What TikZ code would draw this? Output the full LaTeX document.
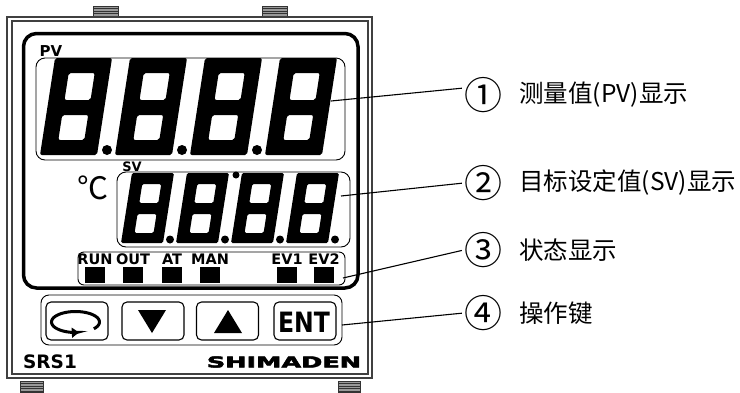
\documentclass[tikz,border=0pt]{standalone}
\usepackage{fontspec}
\setmainfont{DejaVu Sans}
\newfontfamily\cjk{Noto Sans CJK SC}
\newfontfamily\heavy[FakeBold=3]{DejaVu Sans Bold}
\usetikzlibrary{positioning,arrows.meta}

\tikzset{
    frameline/.style={draw=black!75, line width=1.4pt},
    window/.style={draw, line width=0.9pt, rounded corners=9pt, inner sep=0pt},
    key/.style={draw, line width=1.1pt, rounded corners=5pt,
        minimum width=62pt, minimum height=38pt, inner sep=0pt},
    lamp/.style={fill=black, minimum width=20pt, minimum height=16pt, inner sep=0pt},
    tag/.style={font=\bfseries\fontsize{14.5}{15}\selectfont, inner sep=0pt},
    num/.style={font=\cjk\fontsize{38}{40}\selectfont, inner sep=0pt},
    callout/.style={font=\cjk\fontsize{24.5}{26}\selectfont, inner sep=0pt},
    leader/.style={line width=1.1pt, shorten >=2pt},
    % seven segment digits, all segments lit
    pvdigit/.pic={
        \fill[even odd rule, rounded corners=2pt]
            (0,0) rectangle (57,-97)
            (16,-15) rectangle (42,-40)
            (16,-55) rectangle (42,-82);
    },
    svdigit/.pic={
        \fill[even odd rule, rounded corners=1.5pt]
            (0,0) rectangle (42,-70)
            (12,-10) rectangle (31,-29)
            (12,-40) rectangle (31,-59);
    }
}

\begin{document}
\begin{tikzpicture}[x=1pt, y=-1pt]
\useasboundingbox (0,0) rectangle (740,392);

% mounting tabs
\foreach \tx/\ty/\tw in {93/6/25, 262/6/25, 20/381/23, 338/381/22} {
    \fill[black!40] (\tx,\ty) rectangle ++(\tw,11);
    \foreach \k in {0,...,4}
        \draw[black!80, line width=0.8pt] (\tx,\ty+\k*2.6) -- ++(\tw,0);
    \draw[black!80, line width=0.7pt] (\tx,\ty) rectangle ++(\tw,11);
}

% case, double edge
\fill[white] (7,17) rectangle (372,378);
\draw[frameline] (7,17) rectangle (372,378);
\draw[frameline] (12,21) rectangle (368,374);

% bezel of the display
\draw[line width=3.5pt, rounded corners=13pt] (23.5,33.5) rectangle (358,288);

% display windows
\node[window, minimum width=309pt, minimum height=102pt] (pvwin) at (190.5,109) {};
\node[window, minimum width=233pt, minimum height=75pt] (svwin) at (233.5,209.5) {};
\node[window, rounded corners=6pt, minimum width=267pt, minimum height=33pt] (stwin) at (211.5,268.5) {};
\node[window, rounded corners=8pt, minimum width=301pt, minimum height=50pt] (keywin) at (191.5,320) {};

\node[font=\bfseries\fontsize{15}{16}\selectfont, inner sep=0pt] (pvlbl) at (51,51) {PV};
\node[font=\bfseries\fontsize{13}{14}\selectfont, inner sep=0pt] (svlbl) at (132,167) {SV};
\node[font=\cjk\fontsize{31}{32}\selectfont, inner sep=0pt] (unit) at (93,188) {℃};

% PV digits
\foreach \dx in {40,115,190,265}
    \pic[xslant=0.155] at (\dx,155) {pvdigit};
\foreach \dx in {107,182,257}
    \fill (\dx,150) circle (5);

% SV digits
\foreach \dx in {121,176,231,286}
    \pic[xslant=0.157] at (\dx,243) {svdigit};
\foreach \dx in {170,225,280,335}
    \fill (\dx,239.5) circle (4);
\fill (236,175) circle (3.5);

% status lamps
\foreach \lx/\lname/\ltext in {95/run/RUN, 133/out/OUT, 172/at/AT, 210/man/MAN, 287/ev1/EV1, 324/ev2/EV2} {
    \node[tag] (t\lname) at (\lx,259) {\ltext};
    \node[lamp] (l\lname) at (\lx,275) {};
}

% keys
\node[key] (kmode) at (77,321) {};
\node[key] (kdown) at (153,321) {};
\node[key] (kup) at (227.5,321) {};
\node[key] (kent) at (305,321) {};

\draw[line width=3pt, {Triangle[width=10pt,length=7pt]}-]
    plot[domain=82:400, samples=60, smooth] ({75.5+24*cos(\x)}, {322+10.5*sin(\x)});
\fill (138,310) -- (166,310) -- (152,333) -- cycle;
\fill (214,333) -- (242,333) -- (228,310) -- cycle;
\node[font=\bfseries\fontsize{28}{30}\selectfont, inner sep=0pt] at (304,322.5) {\scalebox{0.84}[1]{ENT}};

% front plate lettering
\node[font=\bfseries\fontsize{18.5}{20}\selectfont, inner sep=0pt] (model) at (50,361.5) {SRS1};
\node[font=\heavy\fontsize{15}{16}\selectfont, inner sep=0pt] (brand) at (284,362) {\scalebox{1.7}[1]{SHIMADEN}};

% callouts
\node[num] (n1) at (483,95) {①};
\node[num] (n2) at (483,183) {②};
\node[num] (n3) at (483,250) {③};
\node[num] (n4) at (483,313) {④};
\node[callout, right=17pt of n1] (c1) {测量值(PV)显示};
\node[callout, right=17pt of n2] (c2) {目标设定值(SV)显示};
\node[callout, right=17pt of n3] (c3) {状态显示};
\node[callout, right=17pt of n4] (c4) {操作键};

\coordinate (pvtip) at (331,101);
\coordinate (svtip) at (341,196);
\coordinate (sttip) at (343,278);
\coordinate (keytip) at (342,325);
\draw[leader] (pvtip) -- (n1.160);
\draw[leader] (svtip) -- (n2.west);
\draw[leader] (sttip) -- (n3.west);
\draw[leader] (keytip) -- (n4.west);
\end{tikzpicture}
\end{document}
